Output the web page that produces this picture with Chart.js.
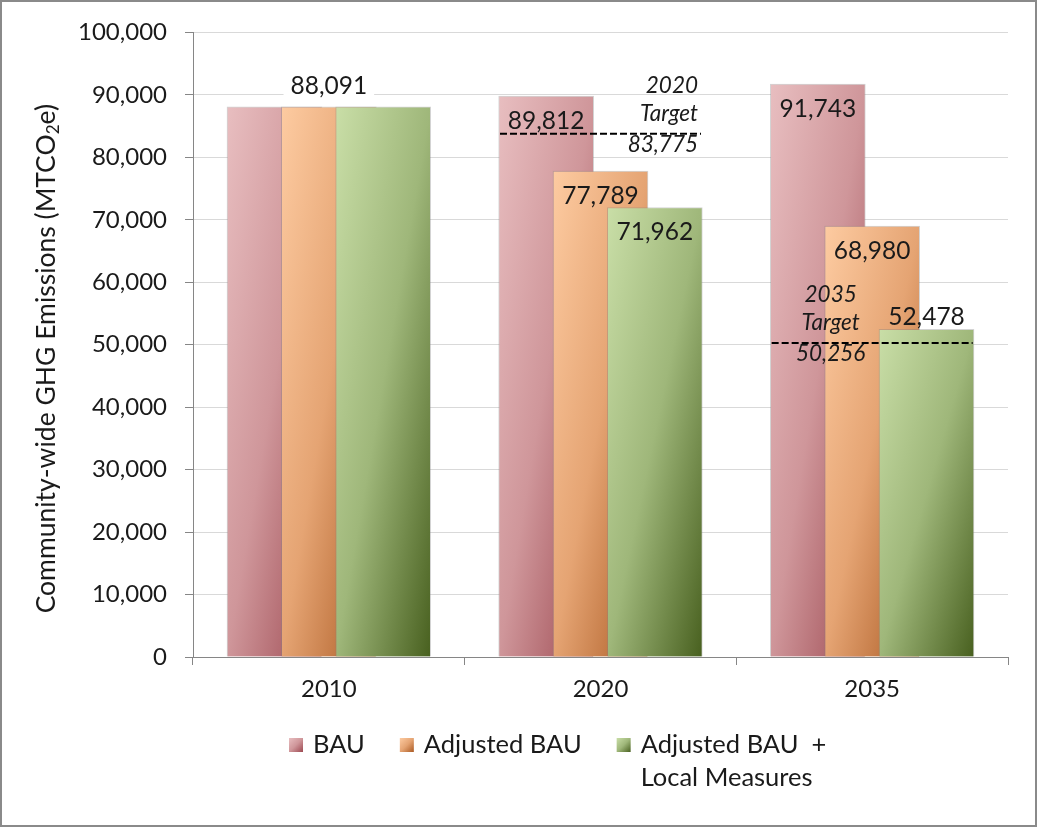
<!DOCTYPE html>
<html>
<head>
<meta charset="utf-8">
<title>Community-wide GHG Emissions</title>
<script src="https://cdn.jsdelivr.net/npm/chart.js@4.4.0/dist/chart.umd.min.js"></script>
<style>
  html, body { margin: 0; padding: 0; background: #ffffff; }
  #wrap { width: 1037px; height: 827px; }
  canvas { display: block; }
</style>
</head>
<body>
<div id="wrap"><canvas id="chart" width="1037" height="827"></canvas></div>
<script>
// ---- data ----
const categories = ['2010', '2020', '2035'];
const bauValues = [88091, 89812, 91743];
const adjustedValues = [88091, 77789, 68980];
const localMeasuresValues = [88091, 71962, 52478];
const seriesNames = ['BAU', 'Adjusted BAU', 'Adjusted BAU  +\nLocal Measures'];
const targetYears = ['2020', '2035'];
const targetValues = [83775, 50256];
const yAxisTitle = ['Community-wide GHG Emissions (MTCO', '2', 'e)'];

// ---- styling ----
const FONT = 'Lato, "Open Sans", sans-serif';
const TEXT = '#1a1a1a';
const AXIS = '#868686';
const BAR_W = 95;
const seriesShift = [-0.2, 0, 0.2];          // overlapping bar offsets within a group
const seriesStops = [
  [[0, '#e8bec0'], [0.5, '#cf969a'], [1, '#9c4850']],
  [[0, '#fdcba1'], [0.5, '#e5a473'], [1, '#aa5922']],
  [[0, '#c9dea7'], [0.5, '#9fb77a'], [1, '#48601f']]
];
// where each value label sits: none | inside | top (above, on white) | above
const labelPlacement = [
  ['none', 'inside', 'inside'],
  ['top', 'inside', 'inside'],
  ['none', 'inside', 'above']
];
const targetHalfSpan = 0.37;
const targetTextAlign = ['right', 'center'];

const seriesValues = [bauValues, adjustedValues, localMeasuresValues];
const fmt = v => v.toLocaleString('en-US');

// diagonal gradient stretched over a box (top-left light -> bottom-right dark)
function boxGradient(ctx, left, top, w, h, stops) {
  const k = 2 * w * h / (w * w + h * h);
  const g = ctx.createLinearGradient(left, top, left + k * h, top + k * w);
  stops.forEach(([o, c]) => g.addColorStop(o, c));
  return g;
}

function barFill(k) {
  return (c) => {
    const fallback = seriesStops[k][1][1];
    if (c.type !== 'data' || !c.parsed) return fallback;
    const chart = c.chart;
    const xs = chart.scales.xb, ys = chart.scales.y;
    if (!xs || !ys) return fallback;
    const cx = xs.getPixelForValue(c.parsed.x);
    const top = ys.getPixelForValue(c.parsed.y);
    const base = ys.getPixelForValue(0);
    const h = base - top;
    if (![cx, top, base].every(Number.isFinite) || h <= 0) return fallback;
    return boxGradient(chart.ctx, cx - BAR_W / 2, top, BAR_W, h, seriesStops[k]);
  };
}

const barDatasets = seriesValues.map((vals, k) => ({
  type: 'bar',
  label: seriesNames[k],
  data: vals.map((v, i) => ({ x: i + seriesShift[k], y: v })),
  xAxisID: 'xb',
  yAxisID: 'y',
  grouped: false,
  barThickness: BAR_W,
  order: 3 - k,
  backgroundColor: barFill(k),
  borderColor: 'rgba(130,130,130,0.35)',
  borderWidth: 1,
  borderSkipped: 'bottom'
}));

const targetDatasets = targetValues.map((v, t) => {
  const idx = categories.indexOf(targetYears[t]);
  return {
    type: 'line',
    label: targetYears[t] + ' Target',
    data: [{ x: idx - targetHalfSpan, y: v }, { x: idx + targetHalfSpan, y: v }],
    xAxisID: 'xb',
    yAxisID: 'y',
    borderColor: '#000000',
    borderWidth: 2,
    borderDash: [7, 3],
    pointRadius: 0,
    fill: false,
    order: 0
  };
});

// ---- plugins ----
const frame = {
  id: 'frame',
  beforeDraw(chart) {
    const ctx = chart.ctx;
    ctx.save();
    ctx.fillStyle = '#ffffff';
    ctx.fillRect(0, 0, chart.width, chart.height);
    ctx.strokeStyle = '#8a8a8a';
    ctx.lineWidth = 2;
    ctx.strokeRect(1, 1, chart.width - 2, chart.height - 2);
    ctx.restore();
  }
};

const axisTitle = {
  id: 'axisTitle',
  afterDraw(chart) {
    const ctx = chart.ctx;
    const area = chart.chartArea;
    ctx.save();
    ctx.translate(46, (area.top + area.bottom) / 2 + 14);
    ctx.rotate(-Math.PI / 2);
    const main = '400 26.5px ' + FONT, sub = '400 17px ' + FONT;
    ctx.font = main; const w0 = ctx.measureText(yAxisTitle[0]).width;
    const w2 = ctx.measureText(yAxisTitle[2]).width;
    ctx.font = sub; const w1 = ctx.measureText(yAxisTitle[1]).width;
    let x = -(w0 + w1 + w2) / 2;
    ctx.fillStyle = TEXT;
    ctx.textBaseline = 'middle';
    ctx.font = main; ctx.fillText(yAxisTitle[0], x, 0); x += w0;
    ctx.font = sub; ctx.fillText(yAxisTitle[1], x, 8); x += w1;
    ctx.font = main; ctx.fillText(yAxisTitle[2], x, 0);
    ctx.restore();
  }
};

const valueLabels = {
  id: 'valueLabels',
  afterDatasetsDraw(chart) {
    const ctx = chart.ctx;
    ctx.save();
    ctx.font = '400 24.5px ' + FONT;
    ctx.textAlign = 'center';
    ctx.textBaseline = 'middle';
    seriesValues.forEach((vals, k) => {
      const meta = chart.getDatasetMeta(k);
      vals.forEach((v, i) => {
        const mode = labelPlacement[k][i];
        if (mode === 'none') return;
        const el = meta.data[i];
        const txt = fmt(v);
        let y;
        if (mode === 'inside') y = el.y + 25;
        else if (mode === 'top') y = el.y - 21;
        else y = el.y - 12;
        if (mode === 'top') {
          const w = ctx.measureText(txt).width;
          ctx.fillStyle = '#ffffff';
          ctx.fillRect(el.x - w / 2 - 7, y - 14, w + 14, 28);
        }
        ctx.fillStyle = TEXT;
        ctx.fillText(txt, el.x, y);
      });
    });
    ctx.restore();
  }
};

const targetLabels = {
  id: 'targetLabels',
  afterDatasetsDraw(chart) {
    const ctx = chart.ctx;
    ctx.save();
    ctx.font = 'italic 400 22.5px ' + FONT;
    ctx.fillStyle = TEXT;
    ctx.textBaseline = 'middle';
    targetValues.forEach((v, t) => {
      const meta = chart.getDatasetMeta(seriesValues.length + t);
      const p0 = meta.data[0], p1 = meta.data[1];
      const y = p0.y;
      let x;
      if (targetTextAlign[t] === 'right') { ctx.textAlign = 'right'; x = p1.x - 3; }
      else { ctx.textAlign = 'center'; x = p0.x + 59; }
      ctx.fillText(targetYears[t], x, y - 48);
      ctx.fillText('Target', x, y - 20);
      ctx.fillText(fmt(v), x, y + 11);
    });
    ctx.restore();
  }
};

const legendBlock = {
  id: 'legendBlock',
  afterDraw(chart) {
    const ctx = chart.ctx;
    ctx.save();
    ctx.font = '400 25.5px ' + FONT;
    ctx.textBaseline = 'middle';
    ctx.textAlign = 'left';
    let x = 289;
    const y1 = 745, lineGap = 33, box = 14;
    seriesNames.forEach((name, k) => {
      ctx.fillStyle = boxGradient(ctx, x, y1 - box / 2, box, box, seriesStops[k]);
      ctx.fillRect(x, y1 - box / 2, box, box);
      const lines = name.split('\n');
      ctx.fillStyle = TEXT;
      lines.forEach((ln, j) => ctx.fillText(ln, x + box + 10, y1 + j * lineGap));
      x += box + 10 + ctx.measureText(lines[0]).width + 35;
    });
    ctx.restore();
  }
};

// ---- chart ----
new Chart(document.getElementById('chart'), {
  type: 'bar',
  data: {
    labels: categories,
    datasets: [...barDatasets, ...targetDatasets]
  },
  options: {
    responsive: false,
    animation: false,
    devicePixelRatio: 1,
    locale: 'en-US',
    layout: { padding: { left: 0, right: 29, top: 31, bottom: 0 } },
    plugins: {
      legend: { display: false },
      tooltip: { enabled: false },
      title: { display: false }
    },
    scales: {
      xb: {
        type: 'linear',
        display: false,
        min: -0.5,
        max: 2.5,
        offset: false
      },
      x: {
        type: 'category',
        position: 'bottom',
        offset: true,
        grid: { offset: true, drawOnChartArea: false, tickLength: 8, tickColor: AXIS, lineWidth: 1 },
        border: { color: AXIS, width: 1 },
        ticks: { color: TEXT, font: { family: FONT, size: 24 }, padding: 10 },
        afterFit: s => { s.height = 170; }
      },
      y: {
        type: 'linear',
        position: 'left',
        min: 0,
        max: 100000,
        ticks: {
          stepSize: 10000,
          color: TEXT,
          font: { family: FONT, size: 24 },
          padding: 18,
          callback: v => fmt(v)
        },
        grid: {
          color: c => (c.tick && c.tick.value === 0) ? AXIS : '#d9d9d9',
          tickColor: AXIS,
          tickLength: 8,
          lineWidth: 1
        },
        border: { color: AXIS, width: 1 },
        afterFit: s => { s.width = 193; }
      }
    }
  },
  plugins: [frame, axisTitle, valueLabels, targetLabels, legendBlock]
});
</script>
</body>
</html>
